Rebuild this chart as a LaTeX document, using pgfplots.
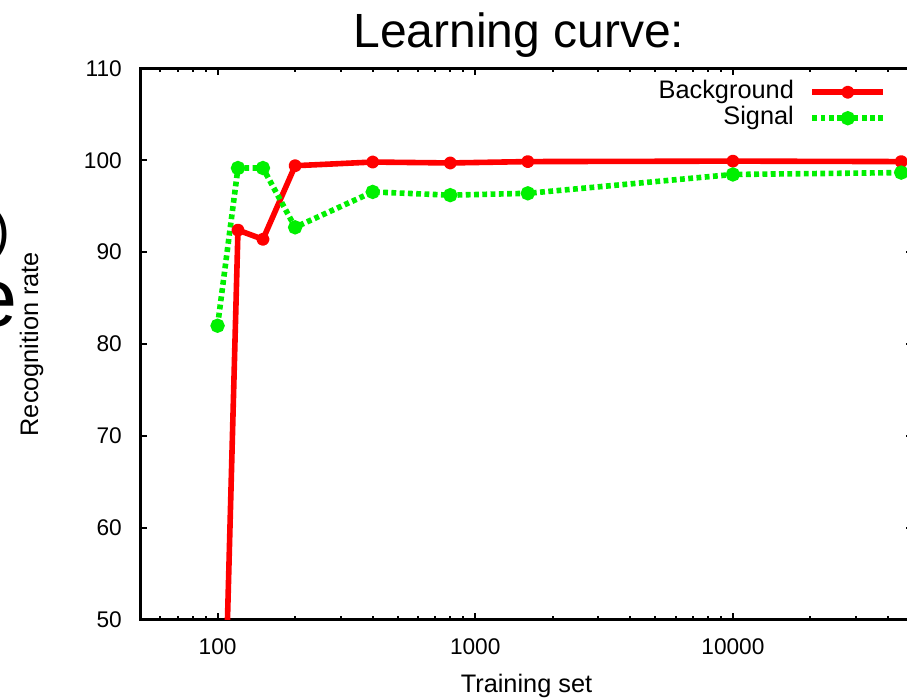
\documentclass[border=0pt]{standalone}
\usepackage{fontspec}
\setmainfont{Liberation Sans}
\usepackage{pgfplots}
\pgfplotsset{compat=1.18}
\definecolor{sigGreen}{RGB}{0,240,0}
\begin{document}
\begin{tikzpicture}
\node[anchor=base east, inner sep=0pt, font=\fontsize{40}{44}\selectfont] at (8.25pt,337pt) {)};
\node[anchor=base east, inner sep=0pt, font=\fontsize{62}{70}\selectfont] at (13.5pt,278.25pt) {e};
\begin{axis}[
  at={(105pt,58.5pt)}, anchor=south west,
  scale only axis, width=579.75pt, height=413.8pt,
  xmode=log, xmin=50, xmax=50000, ymin=50, ymax=110,
  xtick={100,1000,10000,100000},
  xticklabels={100,1000,10000,100000},
  minor xtick={60,70,80,90,200,300,400,500,600,700,800,900,2000,3000,4000,5000,6000,7000,8000,9000,20000,30000,40000},
  ytick={50,60,70,80,90,100,110},
  yticklabels={50,60,70,80,90,100,110},
  tick align=inside,
  major tick length=5.25pt, minor tick length=3pt,
  every tick/.style={line width=1.5pt, black},
  axis line style={line width=2.25pt},
  ticklabel style={font=\fontsize{17}{20}\selectfont, /pgf/number format/assume math mode=true},
  xticklabel style={anchor=base, yshift=-26.25pt, inner sep=0pt},
  yticklabel style={anchor=east, inner sep=0pt, xshift=-13.5pt},
  xlabel={Training set},
  ylabel={Recognition rate},
  xlabel style={at={(axis description cs:0.5,-0.1323)}, anchor=base, font=\fontsize{19}{22}\selectfont, inner sep=0pt},
  ylabel style={at={(axis description cs:-0.13195,0.5)}, anchor=base, rotate=0, font=\fontsize{19}{22}\selectfont, inner sep=0pt},
  title={Learning curve:},
  title style={at={(axis description cs:0.4903,1.0235)}, anchor=base, font=\fontsize{36}{40}\selectfont, inner sep=0pt},
  legend plot pos=right,
  legend cell align=right,
  legend style={at={(axis description cs:0.9655,0.9806)}, anchor=north east, draw=none, fill=none,
    inner sep=0pt, font=\fontsize{19}{19.5}\selectfont, row sep=0pt, column sep=10.75pt,
    nodes={inner sep=1pt, text height=13.5pt, text depth=4pt}},
  legend image code/.code={\draw[mark repeat=2,mark phase=2,#1] plot coordinates {(0pt,0pt) (26.6pt,0pt) (53.2pt,0pt)};},
]
\addplot[color=red, line width=4.2pt, line join=round, mark=*, mark size=2.8pt] coordinates {
(100,10) (120,92.4) (150,91.4) (200,99.4) (400,99.8) (800,99.7) (1600,99.85) (10000,99.9) (45000,99.85)
};
\addlegendentry{Background}
\addplot[color=sigGreen, line width=4.2pt, dash pattern=on 3.6pt off 2.6pt, mark=*, mark size=3.2pt, mark options={solid}] coordinates {
(100,82.0) (120,99.15) (150,99.15) (200,92.7) (400,96.55) (800,96.2) (1600,96.4) (10000,98.45) (45000,98.65)
};
\addlegendentry{Signal}
\end{axis}
\pgfresetboundingbox
\useasboundingbox (0,0) rectangle (680.25pt,523.5pt);
\end{tikzpicture}
\end{document}
